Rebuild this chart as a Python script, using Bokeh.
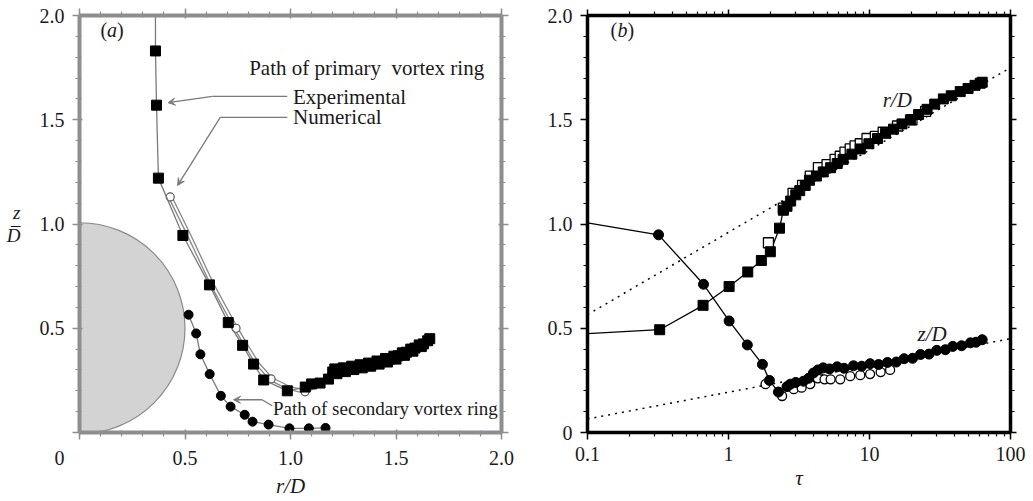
from bokeh.plotting import figure
from bokeh.models import (Range1d, LinearAxis, LogAxis, FixedTicker, CustomJSTickFormatter,
                          Label, Arrow, VeeHead)
from bokeh.layouts import row
from bokeh.embed import file_html
from bokeh.resources import INLINE

# ---------------- data: panel (a) ----------------
body_r = 0.0
body_z = 0.5
body_radius = 0.5

exp_r = [0.36, 0.365, 0.374, 0.49, 0.616, 0.705, 0.773, 0.825, 0.873, 0.985,
         1.07, 1.10, 1.14, 1.18, 1.20, 1.21, 1.23, 1.25, 1.27, 1.29, 1.31, 1.33,
         1.35, 1.37, 1.39, 1.41, 1.43, 1.45, 1.47, 1.49, 1.51, 1.53, 1.55, 1.57,
         1.59, 1.61, 1.63, 1.65, 1.66]
exp_z = [1.83, 1.57, 1.22, 0.945, 0.708, 0.527, 0.418, 0.328, 0.252, 0.20,
         0.218, 0.233, 0.237, 0.256, 0.29, 0.305, 0.295, 0.31, 0.305, 0.318, 0.312, 0.325,
         0.32, 0.333, 0.33, 0.343, 0.34, 0.355, 0.352, 0.366, 0.368, 0.382, 0.385, 0.40,
         0.405, 0.42, 0.425, 0.44, 0.45]
# extra overlapping squares in the dense part of the path
exp_r2 = [1.22, 1.26, 1.30, 1.34, 1.38, 1.42, 1.46, 1.50, 1.54, 1.58, 1.62]
exp_z2 = [0.282, 0.292, 0.302, 0.31, 0.318, 0.328, 0.338, 0.352, 0.37, 0.39, 0.412]
exp_top_r = 0.36
exp_top_z = 2.0

num_r = [0.43, 0.52, 0.63, 0.742, 0.79, 0.845, 0.908, 0.99, 1.069,
         1.12, 1.2, 1.3, 1.4, 1.5, 1.6, 1.66]
num_z = [1.13, 0.945, 0.708, 0.50, 0.418, 0.328, 0.257, 0.215, 0.195,
         0.225, 0.28, 0.31, 0.335, 0.36, 0.41, 0.44]
num_mark_r = [0.43, 0.742, 0.908, 1.069]
num_mark_z = [1.13, 0.50, 0.257, 0.195]

sec_r = [0.517, 0.553, 0.573, 0.617, 0.67, 0.716, 0.783, 0.82, 0.896, 0.995, 1.087, 1.166]
sec_z = [0.565, 0.475, 0.375, 0.28, 0.176, 0.124, 0.085, 0.052, 0.038, 0.02, 0.02, 0.022]

a_xticks = [0, 0.5, 1.0, 1.5, 2.0]
a_yticks = [0, 0.5, 1.0, 1.5, 2.0]

# ---------------- data: panel (b) ----------------
tau_start = 0.1
z_start = 1.005
r_start = 0.474

tau_c = [0.319, 0.665, 1.01, 1.36, 1.74, 1.95, 2.26]
z_c = [0.948, 0.711, 0.535, 0.42, 0.327, 0.25, 0.194]
tau_zd = [2.6, 2.75, 3.0, 3.4, 3.7, 4.0, 4.3, 4.7, 5.2, 5.9, 6.6, 7.7, 8.8, 10.1,
          11.6, 13.4, 15.5, 17.6, 20.2, 23, 26.4, 30, 34.5, 39, 45, 52, 57, 63]
z_d = [0.22, 0.232, 0.24, 0.246, 0.26, 0.285, 0.30, 0.31, 0.305, 0.315, 0.308, 0.32,
       0.318, 0.33, 0.326, 0.336, 0.338, 0.354, 0.356, 0.374, 0.376, 0.394, 0.397, 0.413,
       0.416, 0.43, 0.433, 0.445]
tau_zn = [1.83, 2.4, 2.9, 3.3, 3.8, 4.3, 4.8, 5.3, 6.2, 7.3, 8.6, 10.1, 12, 14]
z_n = [0.232, 0.175, 0.208, 0.215, 0.232, 0.26, 0.255, 0.255, 0.255, 0.27, 0.275, 0.28, 0.29, 0.30]

tau_s = [0.325, 0.66, 1.01, 1.37, 1.71, 1.98, 2.3, 2.45]
r_s = [0.493, 0.61, 0.70, 0.77, 0.825, 0.867, 0.98, 1.066]
tau_rd = [2.6, 2.76, 3.0, 3.2, 3.5, 3.75, 4.2, 4.7, 5.3, 5.9, 6.5, 7.5, 8.6, 9.9,
          11.4, 13, 14.8, 17, 19.5, 22.3, 25.6, 29, 33.4, 38, 44, 50, 56, 61, 63]
r_d = [1.085, 1.11, 1.14, 1.16, 1.185, 1.21, 1.23, 1.25, 1.27, 1.29, 1.31, 1.335,
       1.36, 1.385, 1.41, 1.435, 1.455, 1.48, 1.50, 1.525, 1.55, 1.575, 1.60, 1.615,
       1.635, 1.65, 1.665, 1.675, 1.68]
tau_rn = [1.92, 2.45, 2.87, 3.35, 3.8, 4.34, 5.0, 5.7, 6.2, 6.7, 7.3, 7.9, 8.6, 9.6,
          11, 12.5, 15.8, 20, 25]
r_n = [0.91, 1.076, 1.147, 1.185, 1.23, 1.27, 1.285, 1.31, 1.325, 1.345, 1.36, 1.375,
       1.385, 1.41, 1.42, 1.44, 1.47, 1.50, 1.54]

tau_fit = [0.1, 100]
r_fit = [0.565, 1.75]
z_fit = [0.065, 0.45]

b_xticks = [0.1, 1, 10, 100]
b_yticks = [0, 0.5, 1.0, 1.5, 2.0]

SERIF = "Liberation Serif"
GRAY = "#8e8e8e"
LGRAY = "#7a7a7a"


def style_axis(ax, color, lw, mj_in, mj_out, mn_in, mn_out, show_labels, fmt_code):
    ax.axis_line_color = color
    ax.axis_line_width = lw
    ax.major_tick_line_color = color
    ax.minor_tick_line_color = color
    ax.major_tick_line_width = 1.5
    ax.minor_tick_line_width = 1.2
    ax.major_tick_in = mj_in
    ax.major_tick_out = mj_out
    ax.minor_tick_in = mn_in
    ax.minor_tick_out = mn_out
    ax.axis_label_text_font = SERIF
    ax.axis_label_text_font_style = "italic"
    ax.axis_label_text_font_size = "21px"
    ax.axis_label_text_color = "#1a1a1a"
    if show_labels:
        ax.formatter = CustomJSTickFormatter(code=fmt_code)
        ax.major_label_text_font = SERIF
        ax.major_label_text_font_size = "20px"
        ax.major_label_text_color = "#1a1a1a"
    else:
        ax.formatter = CustomJSTickFormatter(code="return '';")
        ax.major_label_text_font_size = "0px"
        ax.major_label_standoff = 0


def lab(p, x, y, text, size="21px", italic=False, align="left", color="#1a1a1a"):
    p.add_layout(Label(x=x, y=y, text=text, text_font=SERIF, text_font_size=size,
                       text_font_style="italic" if italic else "normal",
                       text_align=align, text_baseline="middle", text_color=color))


# ================= panel (a) =================
pa = figure(width=515, height=500, output_backend="svg", toolbar_location=None,
            x_range=Range1d(0, 2), y_range=Range1d(0, 2),
            min_border_left=79, min_border_right=14, min_border_top=15, min_border_bottom=63,
            x_axis_location=None, y_axis_location=None)
pa.grid.visible = False
pa.outline_line_color = GRAY
pa.outline_line_width = 3
pa.background_fill_color = "white"

a_minor = [i / 10 for i in range(21)]
NB = "\\u00a0" * 8
for loc in ["below", "left", "above", "right"]:
    ax = LinearAxis(ticker=FixedTicker(ticks=a_xticks if loc in ("below", "above") else a_yticks,
                                       minor_ticks=a_minor))
    if loc == "below":
        code = "return tick == 0 ? '0" + NB + "' : tick.toFixed(1);"
    else:
        code = "return tick == 0 ? '' : tick.toFixed(1);"
    style_axis(ax, GRAY, 4, 3, 7, 2, 4, loc in ("below", "left"), code)
    if loc == "below":
        ax.major_label_standoff = 7
        ax.axis_label = "r/D"
        ax.axis_label_standoff = 2
    elif loc == "left":
        ax.major_label_standoff = 8
        ax.axis_label = "z\n\u2013\nD"
        ax.axis_label_orientation = "horizontal"
        ax.axis_label_text_font_size = "19px"
        ax.axis_label_text_line_height = 0.55
        ax.axis_label_text_align = "center"
        ax.axis_label_standoff = 16
    pa.add_layout(ax, loc)

pa.circle(x=[body_r], y=[body_z], radius=body_radius, fill_color="#d3d3d3",
          line_color="#8a8a8a", line_width=1.2)

# numerical (double line)
pa.line(num_r, num_z, line_color="#8a8a8a", line_width=4.5)
pa.line(num_r, num_z, line_color="white", line_width=1.8)
pa.scatter(num_mark_r, num_mark_z, marker="circle", size=8, fill_color="white",
           line_color="#555555", line_width=1.2)

# experimental
pa.line([exp_top_r] + exp_r, [exp_top_z] + exp_z, line_color=LGRAY, line_width=1.3)
pa.scatter(exp_r2, exp_z2, marker="square", size=10, fill_color="black", line_color="black")
pa.scatter(exp_r, exp_z, marker="square", size=10, fill_color="black", line_color="black")

# secondary
pa.line(sec_r, sec_z, line_color=LGRAY, line_width=1.3)
pa.scatter(sec_r, sec_z, marker="circle", size=9, fill_color="black", line_color="black")

# annotations
lab(pa, 0.099, 1.929, "(", size="20px")
lab(pa, 0.130, 1.929, "a", size="20px", italic=True)
lab(pa, 0.178, 1.929, ")", size="20px")
lab(pa, 0.804, 1.748, "Path of primary\u00a0 vortex ring")
lab(pa, 1.012, 1.610, "Experimental")
lab(pa, 1.012, 1.511, "Numerical")
lab(pa, 0.917, 0.114, "Path of secondary vortex ring", size="19px")


def leader(p, x0, y0, x1, y1, head):
    p.add_layout(Arrow(x_start=x0, y_start=y0, x_end=x1, y_end=y1,
                       end=VeeHead(size=7, fill_color=LGRAY, line_color=LGRAY) if head else None,
                       line_color=LGRAY, line_width=1.3))


leader(pa, 0.985, 1.612, 0.63, 1.612, False)
leader(pa, 0.63, 1.612, 0.42, 1.582, True)
leader(pa, 0.985, 1.511, 0.667, 1.511, False)
leader(pa, 0.667, 1.511, 0.465, 1.185, True)
leader(pa, 0.913, 0.128, 0.865, 0.157, False)
leader(pa, 0.865, 0.157, 0.73, 0.157, True)

# ================= panel (b) =================
pb = figure(width=517, height=500, output_backend="svg", toolbar_location=None,
            x_axis_type="log", x_range=Range1d(0.1, 100), y_range=Range1d(0, 2),
            min_border_left=72, min_border_right=22, min_border_top=15, min_border_bottom=63,
            x_axis_location=None, y_axis_location=None)
pb.grid.visible = False
pb.outline_line_color = "black"
pb.outline_line_width = 3

b_xminor = [k * 10.0 ** e for e in (-1, 0, 1) for k in range(2, 10)]
b_yminor = [i / 10 for i in range(21)]
for loc in ["below", "left", "above", "right"]:
    if loc in ("below", "above"):
        ax = LogAxis(ticker=FixedTicker(ticks=b_xticks, minor_ticks=b_xminor))
        code = "return String(tick);"
    else:
        ax = LinearAxis(ticker=FixedTicker(ticks=b_yticks, minor_ticks=b_yminor))
        code = "return tick == 0 ? '0' : tick.toFixed(1);"
    out = 7 if loc in ("below", "left") else 6
    style_axis(ax, "black", 3.5, 0, out, 0, 4, loc in ("below", "left"), code)
    if loc == "below":
        ax.major_label_standoff = 7
        ax.axis_label = "\u03c4"
        ax.axis_label_standoff = 2
    elif loc == "left":
        ax.major_label_standoff = 8
    pb.add_layout(ax, loc)

# fits
pb.line(tau_fit, r_fit, line_color="black", line_width=1.5, line_dash="2 5")
pb.line(tau_fit, z_fit, line_color="black", line_width=1.5, line_dash="2 5")

# z/D
pb.line([tau_start] + tau_c + tau_zd, [z_start] + z_c + z_d, line_color="black", line_width=1.3)
pb.scatter(tau_zn, z_n, marker="circle", size=9, fill_color="white", line_color="black", line_width=1.3)
pb.scatter(tau_c + tau_zd, z_c + z_d, marker="circle", size=10, fill_color="black", line_color="black")

# r/D
pb.line([tau_start] + tau_s + tau_rd, [r_start] + r_s + r_d, line_color="black", line_width=1.3)
pb.scatter(tau_rn, r_n, marker="square", size=10, fill_color="white", line_color="black", line_width=1.3)
pb.scatter(tau_s + tau_rd, r_s + r_d, marker="square", size=10, fill_color="black", line_color="black")

lab(pb, 0.1455, 1.929, "(", size="20px")
lab(pb, 0.163, 1.929, "b", size="20px", italic=True)
lab(pb, 0.192, 1.929, ")", size="20px")
lab(pb, 12.4, 1.597, "r/D", italic=True)
lab(pb, 21.9, 0.474, "z/D", italic=True)

layout = row(pa, pb)
open("out.html", "w").write(file_html(layout, INLINE))
